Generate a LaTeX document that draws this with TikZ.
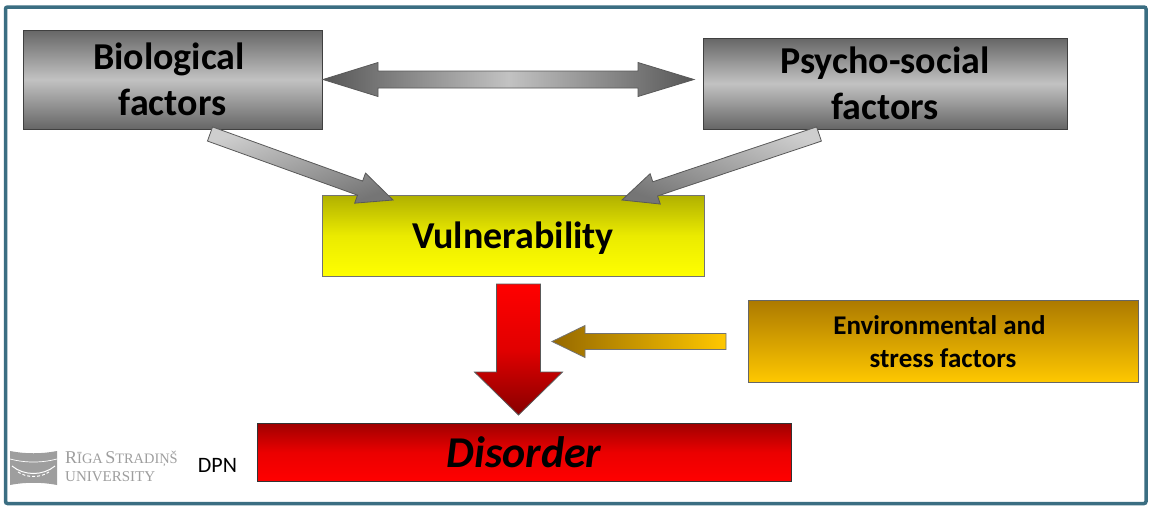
\documentclass[tikz,border=0pt]{standalone}
\usepackage{fontspec}
\setmainfont{Carlito}
\newfontfamily\logofont{Liberation Serif}
\usetikzlibrary{calc}
\definecolor{frameblue}{HTML}{3B6E82}
\definecolor{graydark}{HTML}{666666}
\definecolor{graylight}{HTML}{C2C2C2}
\tikzset{
  box/.style={draw=black!75,line width=0.7pt,inner sep=0pt,font=\bfseries,align=center},
  graybox/.style={box,top color=graydark,bottom color=graydark,middle color=graylight},
  arrowline/.style={draw=black!65,line width=0.8pt,line join=miter},
  logotext/.style={text=black!38,inner sep=0pt,anchor=west,font=\logofont}
}
% from, to, shaft half width, head half width, head length, path options
\newcommand{\blockarrow}[6]{%
  \path[arrowline,#6]
    ($(#1)!#3!90:(#2)$) --
    ($(#2)!#5!(#1)!#3!90:(#2)$) --
    ($(#2)!#5!(#1)!#4!90:(#2)$) --
    (#2) --
    ($(#2)!#5!(#1)!#4!-90:(#2)$) --
    ($(#2)!#5!(#1)!#3!-90:(#2)$) --
    ($(#1)!#3!-90:(#2)$) -- cycle;}
\begin{document}
\begin{tikzpicture}[x=1pt,y=-1pt]
\useasboundingbox (0,0) rectangle (1152,509);
\fill[white] (0,0) rectangle (1152,509);
\draw[frameblue,line width=3.5pt,rounded corners=2pt] (5.5,7) rectangle (1146,503.5);
% boxes
\node[graybox,minimum width=299pt,minimum height=99pt,font=\bfseries\fontsize{38}{46}\selectfont] (bio) at (172.5,79.5) {\mbox{Biological\kern7pt}\\factors};
\node[graybox,minimum width=364pt,minimum height=91pt,font=\bfseries\fontsize{38}{46}\selectfont] (psy) at (885,83.5) {Psycho-social\\factors};
\node[box,draw=black!55,top color={rgb,255:red,176;green,176;blue,0},bottom color=yellow,middle color=yellow!92!black,minimum width=382pt,minimum height=81pt] (vul) at (513,235.5) {};
\node[inner sep=0pt,font=\bfseries\fontsize{38}{46}\selectfont] (vultext) at (513,238) {Vulnerability};
\node[box,draw=black!60,top color={rgb,255:red,172;green,122;blue,0},bottom color={rgb,255:red,255;green,200;blue,0},minimum width=390pt,minimum height=82pt,font=\bfseries\fontsize{27}{33}\selectfont] (env) at (943,341.5) {\mbox{Environmental and\kern7pt}\\stress factors};
\node[box,draw=black!80,top color={rgb,255:red,160;green,0;blue,0},bottom color=red,middle color={rgb,255:red,235;green,0;blue,0},minimum width=534pt,minimum height=58pt,font=\bfseries\itshape\fontsize{44}{48}\selectfont] (dis) at (524,452.5) {Disorder};
% connector end points
\coordinate (dbl-l) at (323,79.5);
\coordinate (dbl-r) at (694,79.5);
\coordinate (bv-s) at (210,134);
\coordinate (bv-e) at (393,200);
\coordinate (pv-s) at (819,134);
\coordinate (pv-e) at (622,200);
\coordinate (vd-s) at (518.5,284);
\coordinate (vd-e) at (518.5,415);
\coordinate (ea-s) at (726,341.5);
\coordinate (ea-e) at (552,341.5);
% connectors
\path[arrowline,left color=graydark!85!black,right color=graydark!85!black,middle color=graylight]
  (dbl-l) -- (378,62.5) -- (378,71) -- (638,71) -- (638,62.5) -- (dbl-r) -- (638,96.5) -- (638,88) -- (378,88) -- (378,96.5) -- cycle;
\blockarrow{bv-s}{bv-e}{7.5pt}{16pt}{35pt}{shading=axis,left color=graydark!90,right color=graylight!80!white,shading angle=200}
\blockarrow{pv-s}{pv-e}{7.5pt}{16pt}{35pt}{shading=axis,left color=graylight!80!white,right color=graydark!90,shading angle=-20}
\blockarrow{vd-s}{vd-e}{22pt}{44pt}{43pt}{top color=red,bottom color={rgb,255:red,135;green,0;blue,0},middle color={rgb,255:red,225;green,0;blue,0}}
\blockarrow{ea-s}{ea-e}{8pt}{16pt}{33pt}{draw=black!55,left color={rgb,255:red,150;green,105;blue,0},right color={rgb,255:red,255;green,200;blue,0}}
% logo
\fill[black!38] (10,451) .. controls (25,454) and (42,454) .. (57,451) -- (57,485) .. controls (42,482) and (25,482) .. (10,485) -- cycle;
\draw[white,line width=1pt] (12,466) .. controls (24,476) and (43,476) .. (55,466);
\draw[white,line width=1pt,dash pattern=on 3pt off 2pt] (18,472) .. controls (27,478) and (40,478) .. (49,472);
\draw[white,line width=.7pt] (10,459) .. controls (25,463) and (42,463) .. (57,459);
\node[logotext] (rsu1) at (65,459) {{\fontsize{18}{17}\selectfont R}{\fontsize{14.4}{17}\selectfont ĪGA} {\fontsize{18}{17}\selectfont S}{\fontsize{14.4}{17}\selectfont TRADIŅŠ}};
\node[logotext] (rsu2) at (65,477) {\fontsize{15}{17}\selectfont UNIVERSITY};
\node[inner sep=0pt,font=\fontsize{22}{24}\selectfont] (dpn) at (217.5,465.5) {DPN};
\end{tikzpicture}
\end{document}
